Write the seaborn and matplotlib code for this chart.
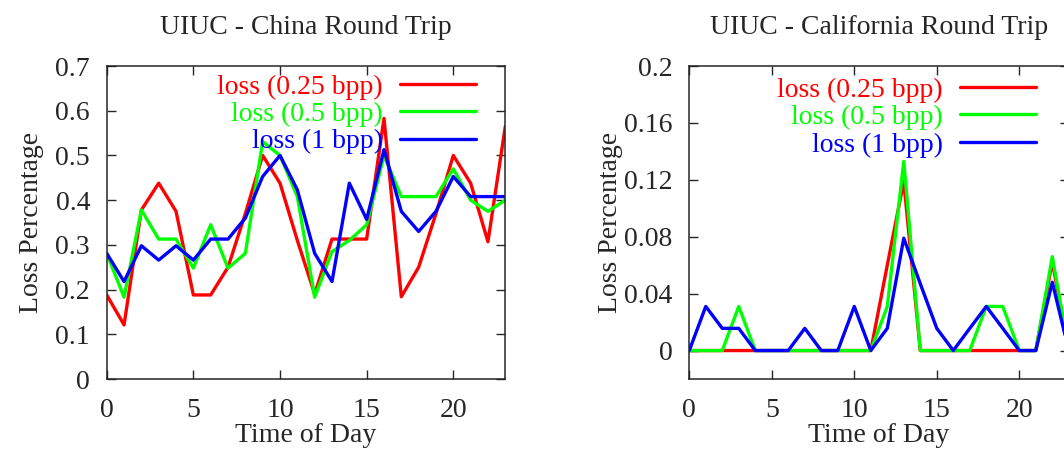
import matplotlib
matplotlib.use("Agg")
import matplotlib.pyplot as plt
import pandas as pd
import seaborn as sns
from matplotlib.ticker import FuncFormatter

hours = list(range(24))
series_labels = ["loss (0.25 bpp)", "loss (0.5 bpp)", "loss (1 bpp)"]
series_colors = ["#ff0000", "#00ff00", "#0000ff"]

china_025 = [0.188, 0.121, 0.378, 0.438, 0.375, 0.188, 0.188, 0.25, 0.37, 0.50, 0.438, 0.31,
             0.19, 0.313, 0.313, 0.313, 0.583, 0.184, 0.25, 0.37, 0.50, 0.438, 0.307, 0.565]
china_05 = [0.281, 0.183, 0.378, 0.313, 0.313, 0.248, 0.345, 0.248, 0.281, 0.531, 0.50, 0.408,
            0.183, 0.285, 0.31, 0.345, 0.50, 0.408, 0.408, 0.408, 0.47, 0.40, 0.375, 0.40]
china_1 = [0.281, 0.218, 0.298, 0.266, 0.298, 0.266, 0.313, 0.313, 0.36, 0.453, 0.50, 0.423,
           0.281, 0.218, 0.438, 0.357, 0.513, 0.375, 0.33, 0.375, 0.453, 0.408, 0.408, 0.408]

cal_025 = [0, 0, 0, 0, 0, 0, 0, 0, 0, 0, 0, 0,
           0.06, 0.119, 0, 0, 0, 0, 0, 0, 0, 0, 0.0625, 0]
cal_05 = [0, 0, 0, 0.031, 0, 0, 0, 0, 0, 0, 0, 0,
          0.031, 0.133, 0, 0, 0, 0, 0.031, 0.031, 0, 0, 0.066, 0]
cal_1 = [0, 0.031, 0.0156, 0.0156, 0, 0, 0, 0.0156, 0, 0, 0.031, 0,
         0.0156, 0.079, 0.047, 0.0156, 0, 0.0156, 0.031, 0.0156, 0, 0, 0.048, 0]


def _long(series):
    frames = []
    for label, vals in zip(series_labels, series):
        frames.append(pd.DataFrame({"hour": hours, "loss": vals, "series": label}))
    return pd.concat(frames, ignore_index=True)


sns.set_style("ticks")
plt.rcParams["font.family"] = ["Liberation Serif", "DejaVu Serif"]
plt.rcParams["font.size"] = 20
plt.rcParams["axes.linewidth"] = 1.1
plt.rcParams["xtick.direction"] = "in"
plt.rcParams["ytick.direction"] = "in"
plt.rcParams["xtick.major.size"] = 6.5
plt.rcParams["ytick.major.size"] = 6.5
plt.rcParams["xtick.major.width"] = 1.0
plt.rcParams["ytick.major.width"] = 1.0
plt.rcParams["xtick.top"] = True
plt.rcParams["ytick.right"] = True

fig = plt.figure(figsize=(10.64, 4.49), dpi=100)
panels = [
    dict(pos=[0.1003, 0.1559, 0.3746, 0.697], data=[china_025, china_05, china_1],
         title="UIUC - China Round Trip", ylim=(0, 0.7), yticks=[0, 0.1, 0.2, 0.3, 0.4, 0.5, 0.6, 0.7],
         anchor=(0.9265, 0.974), ylabelpad=8),
    dict(pos=[0.6478, 0.1559, 0.3567, 0.697], data=[cal_025, cal_05, cal_1],
         title="UIUC - California Round Trip", ylim=(-0.02, 0.2), yticks=[0, 0.04, 0.08, 0.12, 0.16, 0.2],
         anchor=(0.9136, 0.964), ylabelpad=1),
]

for p in panels:
    ax = fig.add_axes(p["pos"])
    df = _long(p["data"])
    sns.lineplot(data=df, x="hour", y="loss", hue="series", hue_order=series_labels,
                 palette=series_colors, linewidth=2.4, ax=ax)
    ax.set_xlim(0, 23)
    ax.set_ylim(*p["ylim"])
    ax.set_xticks([0, 5, 10, 15, 20])
    ax.set_yticks(p["yticks"])
    ax.yaxis.set_major_formatter(FuncFormatter(lambda v, _: f"{v:g}"))
    ax.tick_params(axis="x", labelsize=20, pad=14)
    ax.tick_params(axis="y", labelsize=20, pad=12)
    ax.set_title(p["title"], fontsize=20, pad=23)
    ax.set_xlabel("Time of Day", fontsize=20, labelpad=0)
    ax.set_ylabel("Loss Percentage", fontsize=20, labelpad=p["ylabelpad"])
    handles, labels = ax.get_legend_handles_labels()
    ax.legend(handles, labels, loc="upper right", bbox_to_anchor=p["anchor"],
              frameon=False, markerfirst=False, labelcolor="linecolor",
              handlelength=2.75, handletextpad=0.6, labelspacing=0.07,
              borderpad=0, borderaxespad=0, fontsize=20)

fig.savefig("out.png", dpi=100)
